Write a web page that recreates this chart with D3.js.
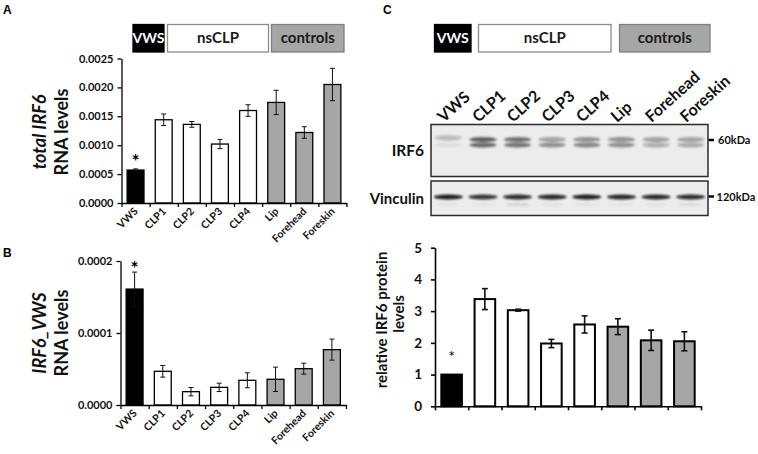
<!DOCTYPE html>
<html><head><meta charset="utf-8">
<script src="https://cdn.jsdelivr.net/npm/d3@7"></script>
<style>body{margin:0;background:#fff} svg{display:block;font-family:Lato,"Open Sans",sans-serif;}</style>
</head><body><svg id="c" width="758" height="454"></svg>
<script>
const categories = ["VWS","CLP1","CLP2","CLP3","CLP4","Lip","Forehead","Foreskin"];
const groupOf = ["VWS","nsCLP","nsCLP","nsCLP","nsCLP","controls","controls","controls"];
const groups = ["VWS","nsCLP","controls"];
const groupFill = ["#000000","#ffffff","#a6a6a6"];
const groupText = ["#ffffff","#1a1a1a","#1a1a1a"];
const groupStroke = ["#000000","#8c8c8c","#7f7f7f"];

const totalIRF6 = [0.00057,0.00144,0.00136,0.00102,0.00160,0.00174,0.00122,0.00205];
const totalIRF6Err = [0.00002,0.00010,0.00005,0.00008,0.00010,0.00021,0.00010,0.00028];
const irf6VWS = [0.000161,0.0000468,0.0000185,0.0000245,0.0000343,0.0000357,0.0000505,0.0000769];
const irf6VWSErr = [0.0000236,0.0000081,0.0000058,0.0000058,0.0000104,0.0000169,0.0000076,0.0000146];
const protein = [1.0,3.38,3.03,1.98,2.58,2.51,2.08,2.05];
const proteinErr = [0,0.33,0.03,0.13,0.27,0.25,0.32,0.30];

const ticksA = [0,0.0005,0.001,0.0015,0.002,0.0025];
const ticksB = [0,0.0001,0.0002];
const ticksC = [0,1,2,3,4,5];

const blotIRF6Upper = [0.25,0.70,0.62,0.38,0.45,0.45,0.38,0.38];
const blotIRF6Lower = [0.06,0.65,0.58,0.45,0.50,0.45,0.30,0.32];
const blotVinculin = [0.92,0.82,0.86,0.88,0.92,0.88,0.88,0.86];
const blotVinculinLower = [0.06,0.05,0.18,0.08,0.06,0.06,0.06,0.10];

const svg = d3.select("#c");
const defs = svg.append("defs");
defs.append("filter").attr("id","blur").attr("x","-30%").attr("y","-200%").attr("width","160%").attr("height","500%")
  .append("feGaussianBlur").attr("stdDeviation","1.3 1.1");

const fillOf = i => groupFill[groups.indexOf(groupOf[i])];

function rtext(parent, x, y, angle){
  return parent.append("text").attr("transform",`translate(${x.toFixed(2)},${y.toFixed(2)}) rotate(${angle})`);
}

[["A",3,14],["B",3,257],["C",383,14]].forEach(([t,x,y])=>{
  svg.append("text").attr("x",x).attr("y",y).attr("font-family","Liberation Sans, Arial, sans-serif")
    .attr("font-weight","bold").attr("font-size",12).text(t);
});

function legend(spans, y0, y1){
  groups.forEach((g,i)=>{
    const [a,b] = spans[i];
    svg.append("rect").attr("x",a).attr("y",y0).attr("width",b-a).attr("height",y1-y0)
      .attr("fill",groupFill[i]).attr("stroke",groupStroke[i]).attr("stroke-width",1.3);
    svg.append("text").attr("x",(a+b)/2).attr("y",(y0+y1)/2+5).attr("text-anchor","middle")
      .attr("font-weight","bold").attr("font-size",i===0?14:15).attr("fill",groupText[i]).text(g);
  });
}
legend([[133,164],[167.5,268.5],[271.5,344]],24.5,52);
legend([[434.5,471],[478.5,611],[619.5,710]],24.5,52);

function barChart(o){
  const g = svg.append("g");
  const x = d3.scaleBand().domain(categories).range(o.xr).paddingInner(o.pi).paddingOuter(o.pi/2);
  const y = d3.scaleLinear().domain(o.dom).range(o.yr);
  const bw = x.bandwidth();
  g.selectAll("rect.bar").data(o.values).join("rect")
    .attr("x",(d,i)=>x(categories[i])).attr("width",bw)
    .attr("y",d=>y(d)).attr("height",d=>y(0)-y(d))
    .attr("fill",(d,i)=>fillOf(i)).attr("stroke","#000").attr("stroke-width",o.bsw);
  o.values.forEach((v,i)=>{
    const e=o.errs[i]; if(!e) return;
    const cx = x(categories[i])+bw/2;
    g.append("line").attr("x1",cx).attr("x2",cx).attr("y1",y(v-e)).attr("y2",y(v+e)).attr("stroke","#111").attr("stroke-width",o.esw);
    [v-e,v+e].forEach(t=>g.append("line").attr("x1",cx-o.cap).attr("x2",cx+o.cap).attr("y1",y(t)).attr("y2",y(t)).attr("stroke","#111").attr("stroke-width",o.esw));
  });
  const ya = g.append("g").attr("transform",`translate(${o.xr[0]},0)`)
    .call(d3.axisLeft(y).tickValues(o.ticks).tickFormat(o.fmt).tickSize(4).tickSizeOuter(0).tickPadding(o.tpad));
  const xi = d3.scaleLinear().domain([0,categories.length]).range(o.xr);
  const xa = g.append("g").attr("transform",`translate(0,${o.yr[0]})`)
    .call(d3.axisBottom(xi).tickValues(d3.range(categories.length+1)).tickFormat("").tickSize(4).tickSizeOuter(0));
  [ya,xa].forEach(a=>{
    a.select(".domain").attr("stroke","#000").attr("stroke-width",o.asw);
    a.selectAll(".tick line").attr("stroke","#000").attr("stroke-width",o.asw);
    a.selectAll(".tick text").attr("font-weight","bold").attr("font-size",o.tfs).attr("fill","#111").attr("font-family","Lato, sans-serif");
  });
  if(o.xlabels){
    categories.forEach((c,i)=>{
      rtext(g, x(c)+bw/2+3, o.yr[0]+9, -45).attr("text-anchor","end")
        .attr("font-weight","bold").attr("font-size",10.5).attr("fill","#111").text(c);
    });
  }
  const ax = x(categories[0])+bw/2;
  g.append("text").attr("x",ax).attr("y",o.starY).attr("text-anchor","middle")
    .attr("font-weight",o.starBold?"bold":"normal").attr("font-size",o.starFs).text("*");
  o.title.forEach(ln=>{
    const t = rtext(g, ln.x, ln.y, -90).attr("text-anchor","middle")
      .attr("font-weight","bold").attr("font-size",o.titleFs).attr("fill","#111");
    ln.parts.forEach(p=>t.append("tspan").attr("font-style",p[1]?"italic":"normal").text(p[0]));
  });
  return {x,y};
}

const fmt4 = d3.format(".4f");
barChart({xr:[121.5,346.5],yr:[203,58.5],dom:[0,0.0025],values:totalIRF6,errs:totalIRF6Err,ticks:ticksA,fmt:fmt4,
  pi:0.4,bsw:1.3,esw:1,cap:2.5,asw:1.3,tfs:11,tpad:4,xlabels:true,starY:168,starFs:19,starBold:true,
  title:[{x:46,y:132,parts:[["total IRF6",true]]},{x:68,y:132,parts:[["RNA levels",false]]}],titleFs:18});
barChart({xr:[120.5,346],yr:[405,261],dom:[0,0.0002],values:irf6VWS,errs:irf6VWSErr,ticks:ticksB,fmt:fmt4,
  pi:0.4,bsw:1.3,esw:1,cap:2.5,asw:1.3,tfs:11,tpad:4,xlabels:true,starY:275,starFs:19,starBold:true,
  title:[{x:46,y:333,parts:[["IRF6_VWS",true]]},{x:68,y:333,parts:[["RNA levels",false]]}],titleFs:18});
barChart({xr:[435,701],yr:[406.3,247.7],dom:[0,5],values:protein,errs:proteinErr,ticks:ticksC,fmt:d3.format("d"),
  pi:0.38,bsw:2,esw:1.6,cap:3,asw:1.6,tfs:13.5,tpad:9,xlabels:false,starY:362,starFs:16,starBold:false,
  title:[{x:387,y:320,parts:[["relative IRF6 protein",false]]},{x:404,y:314,parts:[["levels",false]]}],titleFs:15});

// western blot
const lane = d3.scaleBand().domain(categories).range([431,708]);
const blots = [{y0:124.5,y1:176.5},{y0:181,y1:215.5}];
blots.forEach(b=>{
  svg.append("rect").attr("x",431).attr("y",b.y0).attr("width",277).attr("height",b.y1-b.y0)
    .attr("fill","#ececec").attr("stroke","#2a2a2a").attr("stroke-width",1.5);
});
const bandG = svg.append("g").attr("filter","url(#blur)");
categories.forEach((c,i)=>{
  const cx = lane(c)+lane.bandwidth()/2;
  const up = i===0?137.8:139.5;
  bandG.append("ellipse").attr("cx",cx).attr("cy",up).attr("rx",13.5).attr("ry",2.6).attr("fill","#222").attr("opacity",blotIRF6Upper[i]);
  bandG.append("ellipse").attr("cx",cx).attr("cy",145).attr("rx",13.5).attr("ry",2.4).attr("fill","#222").attr("opacity",blotIRF6Lower[i]);
  bandG.append("ellipse").attr("cx",cx).attr("cy",197).attr("rx",14.5).attr("ry",2.4).attr("fill","#0c0c0c").attr("opacity",blotVinculin[i]);
  bandG.append("ellipse").attr("cx",cx).attr("cy",204.5).attr("rx",12).attr("ry",1.2).attr("fill","#333").attr("opacity",blotVinculinLower[i]);
});
categories.forEach((c,i)=>{
  rtext(svg, lane(c)+lane.bandwidth()/2-4.5, 123, -42)
    .attr("font-weight","bold").attr("font-size",16).attr("fill","#111").text(c);
});
svg.append("text").attr("x",424).attr("y",156).attr("text-anchor","end").attr("font-weight","bold").attr("font-size",15.5).attr("fill","#111").text("IRF6");
svg.append("text").attr("x",424).attr("y",204).attr("text-anchor","end").attr("font-weight","bold").attr("font-size",15).attr("fill","#111").text("Vinculin");
[["60kDa",140,718],["120kDa",196.5,716.5]].forEach(([t,y,tx])=>{
  svg.append("line").attr("x1",708.5).attr("x2",714).attr("y1",y).attr("y2",y).attr("stroke","#000").attr("stroke-width",2.5);
  svg.append("text").attr("x",tx).attr("y",y+4).attr("font-weight","bold").attr("font-size",11).attr("fill","#111").text(t);
});
</script></body></html>
